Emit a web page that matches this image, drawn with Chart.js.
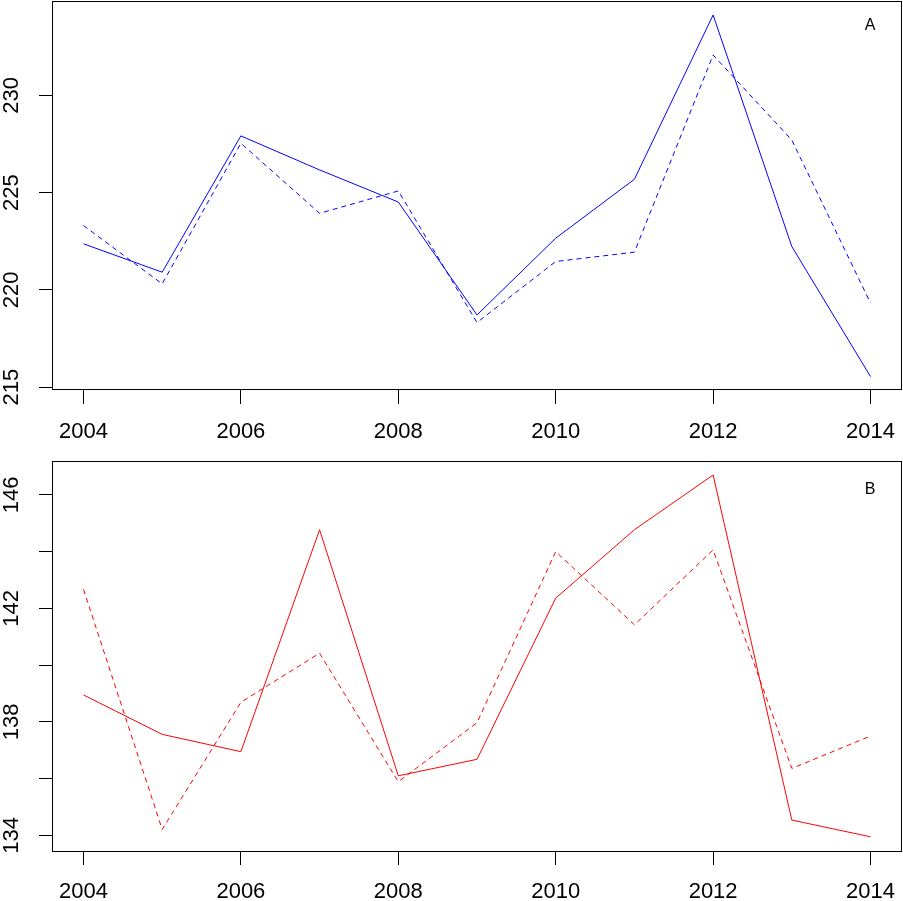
<!DOCTYPE html>
<html>
<head>
<meta charset="utf-8">
<script src="https://cdn.jsdelivr.net/npm/chart.js@4"></script>
<style>
  html, body { margin: 0; padding: 0; background: #fff; }
  #wrap { position: relative; width: 903px; height: 901px; }
  canvas { position: absolute; left: 0; }
</style>
</head>
<body>
<div id="wrap">
  <canvas id="cA" width="903" height="450" style="top:0"></canvas>
  <canvas id="cB" width="903" height="451" style="top:450px"></canvas>
</div>
<script>
const years = [2004, 2005, 2006, 2007, 2008, 2009, 2010, 2011, 2012, 2013, 2014];
const xTicks = [2004, 2006, 2008, 2010, 2012, 2014];

const seriesA_solid  = [222.37, 220.91, 227.92, 226.17, 224.52, 218.71, 222.66, 225.69, 234.14, 222.23, 215.54];
const seriesA_dashed = [223.31, 220.31, 227.54, 223.94, 225.09, 218.32, 221.46, 221.94, 232.08, 227.71, 219.32];
const seriesB_solid  = [138.95, 137.56, 136.95, 144.77, 136.10, 136.68, 142.36, 144.77, 146.70, 134.54, 133.95];
const seriesB_dashed = [142.67, 134.21, 138.69, 140.42, 135.89, 137.97, 144.00, 141.42, 144.06, 136.36, 137.50];

const yTicksA  = [215, 220, 225, 230];
const yLabelsA = [215, 220, 225, 230];
const yTicksB  = [134, 136, 138, 140, 142, 144, 146];
const yLabelsB = [134, 138, 142, 146];

const panelLabels = ['A', 'B'];

const FONT = '"Liberation Sans", Arial, sans-serif';

function pts(vals) { return years.map((y, i) => ({ x: y, y: vals[i] })); }

const boxPlugin = {
  id: 'boxPlugin',
  afterDraw(chart, args, opts) {
    const { ctx, chartArea: a } = chart;
    ctx.save();
    ctx.strokeStyle = '#000';
    ctx.lineWidth = 1;
    ctx.strokeRect(Math.round(a.left) + 0.5, Math.round(a.top) + 0.5,
                   Math.round(a.right - a.left) - 1, Math.round(a.bottom - a.top) - 1);
    const ys = chart.scales.y;
    ctx.fillStyle = '#000';
    ctx.font = '22px ' + FONT;
    ctx.textAlign = 'center';
    ctx.textBaseline = 'middle';
    opts.yLabels.forEach(v => {
      const py = ys.getPixelForValue(v);
      ctx.save();
      ctx.translate(opts.yLabelX, py);
      ctx.rotate(-Math.PI / 2);
      ctx.fillText(String(v), 0, 0);
      ctx.restore();
    });
    ctx.font = '16px ' + FONT;
    ctx.fillText(opts.letter, opts.letterX, opts.letterY);
    ctx.restore();
  }
};

function makeChart(id, solid, dashed, color, yMin, yMax, yTicks, yLabels, letter, padTop, xAxisH, tickPad, letterY) {
  return new Chart(document.getElementById(id), {
    type: 'line',
    data: {
      datasets: [
        { data: pts(solid), borderColor: color, borderWidth: 1, pointRadius: 0, fill: false, tension: 0 },
        { data: pts(dashed), borderColor: color, borderWidth: 1, borderDash: [5, 4], pointRadius: 0, fill: false, tension: 0 }
      ]
    },
    options: {
      responsive: false,
      animation: false,
      devicePixelRatio: 1,
      layout: { padding: { top: padTop, right: 1, left: 0, bottom: 0 } },
      plugins: {
        legend: { display: false },
        tooltip: { enabled: false },
        boxPlugin: { yLabels: yLabels, yLabelX: 12, letter: letter, letterX: 870, letterY: letterY }
      },
      scales: {
        x: {
          type: 'linear',
          min: 2003.6,
          max: 2014.4,
          afterBuildTicks: s => { s.ticks = xTicks.map(v => ({ value: v })); },
          afterFit: s => { s.height = xAxisH; s.paddingLeft = 0; s.paddingRight = 0; },
          border: { display: false },
          grid: { drawOnChartArea: false, drawTicks: true, tickLength: 14, color: '#000', lineWidth: 1 },
          ticks: { color: '#000', font: { family: FONT, size: 22 }, padding: tickPad, maxRotation: 0, autoSkip: false,
                   callback: v => String(v) }
        },
        y: {
          type: 'linear',
          min: yMin,
          max: yMax,
          afterBuildTicks: s => { s.ticks = yTicks.map(v => ({ value: v })); },
          afterFit: s => { s.width = 52; s.paddingTop = 0; s.paddingBottom = 0; },
          border: { display: false },
          grid: { drawOnChartArea: false, drawTicks: true, tickLength: 13, color: '#000', lineWidth: 1 },
          ticks: { display: false }
        }
      }
    },
    plugins: [boxPlugin]
  });
}

makeChart('cA', seriesA_solid, seriesA_dashed, '#0000FF', 214.85, 234.86, yTicksA, yLabelsA, panelLabels[0], 1, 60, 15, 26);
makeChart('cB', seriesB_solid, seriesB_dashed, '#FF0000', 133.45, 147.21, yTicksB, yLabelsB, panelLabels[1], 10.5, 50, 14, 40);
</script>
</body>
</html>
